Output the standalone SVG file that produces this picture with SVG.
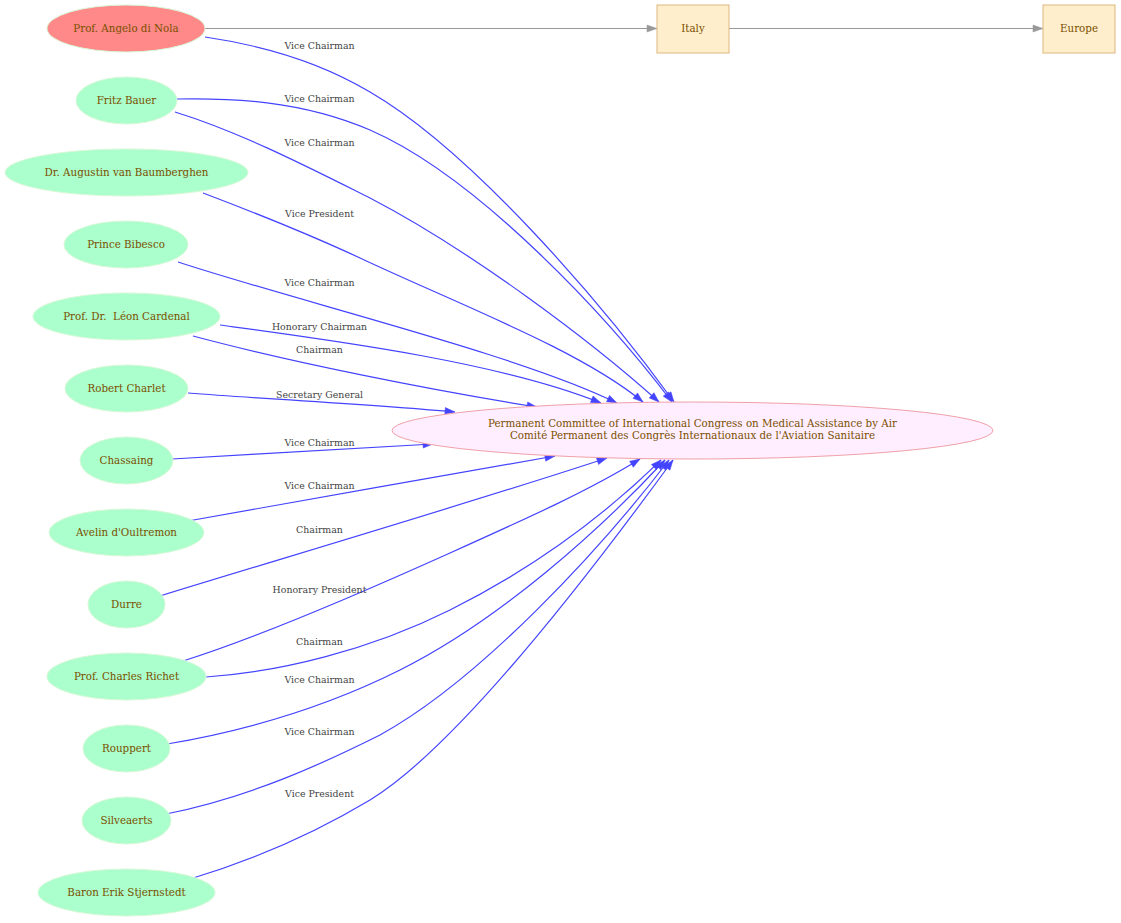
<svg xmlns="http://www.w3.org/2000/svg" width="1121" height="923" viewBox="0 0 1121 923">
<style>
.bg{fill:#ffffff}
.person ellipse{fill:#aaffcc;stroke:#d8f8d8;stroke-width:1}
.person.hl ellipse{fill:#ff8888}
.main ellipse{fill:#ffeeff;stroke:#f0a0a8;stroke-width:1}
.place rect{fill:#ffeecc;stroke:#deb880;stroke-width:1}
.nl{font-family:"DejaVu Serif","Liberation Serif",serif;font-size:10.3px;fill:#7a5000;text-anchor:middle;white-space:pre}
.el{font-family:"DejaVu Serif","Liberation Serif",serif;font-size:9.4px;fill:#444444;text-anchor:middle}
.e{fill:none;stroke:#4444ff;stroke-width:1.2;marker-end:url(#ab)}
.g{fill:none;stroke:#999999;stroke-width:1.2;marker-end:url(#ag)}
</style>
<defs>
<marker id="ab" markerUnits="userSpaceOnUse" markerWidth="12" markerHeight="10" refX="10" refY="3.5" orient="auto" overflow="visible"><path d="M0,0 L10,3.5 L0,7 Z" fill="#4444ff" stroke="#4444ff" stroke-width="0.5"/></marker>
<marker id="ag" markerUnits="userSpaceOnUse" markerWidth="12" markerHeight="10" refX="10" refY="3.5" orient="auto" overflow="visible"><path d="M0,0 L10,3.5 L0,7 Z" fill="#999999" stroke="#999999" stroke-width="0.5"/></marker>
</defs>
<rect class="bg" x="0" y="0" width="1121" height="923"/>
<g id="edges">
<path class="g" d="M205,28.5 L657,28.5"/>
<path class="g" d="M729,28.5 L1043,28.5"/>
<path class="e" d="M205,37 C260,45 320,62 370,92 C470,150 600,300 674,402"/>
<path class="e" d="M177,99 C230,98 300,100 370,130 C480,178 610,320 672,402"/>
<path class="e" d="M175,112 C240,132 310,168 370,198 C470,250 590,340 659,402"/>
<path class="e" d="M203,193 C240,207 300,230 360,258 C460,305 580,350 643,402"/>
<path class="e" d="M178,262 C300,302 520,355 617,403"/>
<path class="e" d="M220,325 C330,340 500,362 601,403"/>
<path class="e" d="M193,336 C290,362 430,390 537,407"/>
<path class="e" d="M188,393 C280,400 380,405 455,412"/>
<path class="e" d="M172,459 C260,454 360,448 433,444"/>
<path class="e" d="M188,521 C290,503 450,474 555,456"/>
<path class="e" d="M160,596 C270,562 480,500 607,458"/>
<path class="e" d="M183,661 C250,640 350,598 450,553 C530,517 590,490 640,459"/>
<path class="e" d="M206,677 C280,672 370,650 450,610 C540,565 610,510 661,460"/>
<path class="e" d="M167,744 C250,730 330,705 400,670 C500,620 600,530 665,460"/>
<path class="e" d="M166,814 C250,797 320,765 380,735 C480,680 600,550 669,460"/>
<path class="e" d="M190,879 C260,858 320,830 370,800 C460,745 600,560 673,460"/>
<text class="el" x="319.5" y="48.5">Vice Chairman</text>
<text class="el" x="319.5" y="101.5">Vice Chairman</text>
<text class="el" x="319.5" y="145.5">Vice Chairman</text>
<text class="el" x="319.5" y="216.5">Vice President</text>
<text class="el" x="319.5" y="285.5">Vice Chairman</text>
<text class="el" x="319.5" y="329.5">Honorary Chairman</text>
<text class="el" x="319.5" y="352.5">Chairman</text>
<text class="el" x="319.5" y="397.5">Secretary General</text>
<text class="el" x="319.5" y="445.5">Vice Chairman</text>
<text class="el" x="319.5" y="488.5">Vice Chairman</text>
<text class="el" x="319.5" y="532.5">Chairman</text>
<text class="el" x="319.5" y="592.5">Honorary President</text>
<text class="el" x="319.5" y="644.5">Chairman</text>
<text class="el" x="319.5" y="682.5">Vice Chairman</text>
<text class="el" x="319.5" y="734.5">Vice Chairman</text>
<text class="el" x="319.5" y="796.5">Vice President</text>
</g>
<g id="n_angelo" class="person hl"><ellipse cx="126" cy="28.5" rx="79" ry="23.5"/><text class="nl" x="126" y="32">Prof. Angelo di Nola</text></g>
<g id="n_bauer" class="person"><ellipse cx="126.5" cy="100.5" rx="50.5" ry="23.5"/><text class="nl" x="126.5" y="104">Fritz Bauer</text></g>
<g id="n_baumberghen" class="person"><ellipse cx="126.5" cy="172.5" rx="121.5" ry="23.5"/><text class="nl" x="126.5" y="176">Dr. Augustin van Baumberghen</text></g>
<g id="n_bibesco" class="person"><ellipse cx="126" cy="244.5" rx="62" ry="23.5"/><text class="nl" x="126" y="248">Prince Bibesco</text></g>
<g id="n_cardenal" class="person"><ellipse cx="126.5" cy="316.5" rx="93.5" ry="23.5"/><text class="nl" x="126.5" y="320">Prof. Dr.  Léon Cardenal</text></g>
<g id="n_charlet" class="person"><ellipse cx="126.5" cy="388.5" rx="61.5" ry="23.5"/><text class="nl" x="126.5" y="392">Robert Charlet</text></g>
<g id="n_chassaing" class="person"><ellipse cx="126.5" cy="460.5" rx="46.5" ry="23.5"/><text class="nl" x="126.5" y="464">Chassaing</text></g>
<g id="n_oultremon" class="person"><ellipse cx="126.5" cy="532.5" rx="77.5" ry="23.5"/><text class="nl" x="126.5" y="536">Avelin d'Oultremon</text></g>
<g id="n_durre" class="person"><ellipse cx="126.5" cy="604.5" rx="38.5" ry="23.5"/><text class="nl" x="126.5" y="608">Durre</text></g>
<g id="n_richet" class="person"><ellipse cx="126.5" cy="676.5" rx="79.5" ry="23.5"/><text class="nl" x="126.5" y="680">Prof. Charles Richet</text></g>
<g id="n_rouppert" class="person"><ellipse cx="126.5" cy="748.5" rx="43.5" ry="23.5"/><text class="nl" x="126.5" y="752">Rouppert</text></g>
<g id="n_silveaerts" class="person"><ellipse cx="126.5" cy="820.5" rx="44.5" ry="23.5"/><text class="nl" x="126.5" y="824">Silveaerts</text></g>
<g id="n_stjernstedt" class="person"><ellipse cx="126.5" cy="892.5" rx="88.5" ry="23.5"/><text class="nl" x="126.5" y="896">Baron Erik Stjernstedt</text></g>
<g id="n_committee" class="main"><ellipse cx="692.5" cy="430.5" rx="300.5" ry="28.5"/><text class="nl" x="692.5" y="426.5">Permanent Committee of International Congress on Medical Assistance by Air</text><text class="nl" x="692.5" y="438.5">Comité Permanent des Congrès Internationaux de l'Aviation Sanitaire</text></g>
<g id="n_italy" class="place"><rect x="657" y="5" width="72" height="48"/><text class="nl" x="693" y="32">Italy</text></g>
<g id="n_europe" class="place"><rect x="1043" y="5" width="72" height="48"/><text class="nl" x="1079" y="32">Europe</text></g>
</svg>
